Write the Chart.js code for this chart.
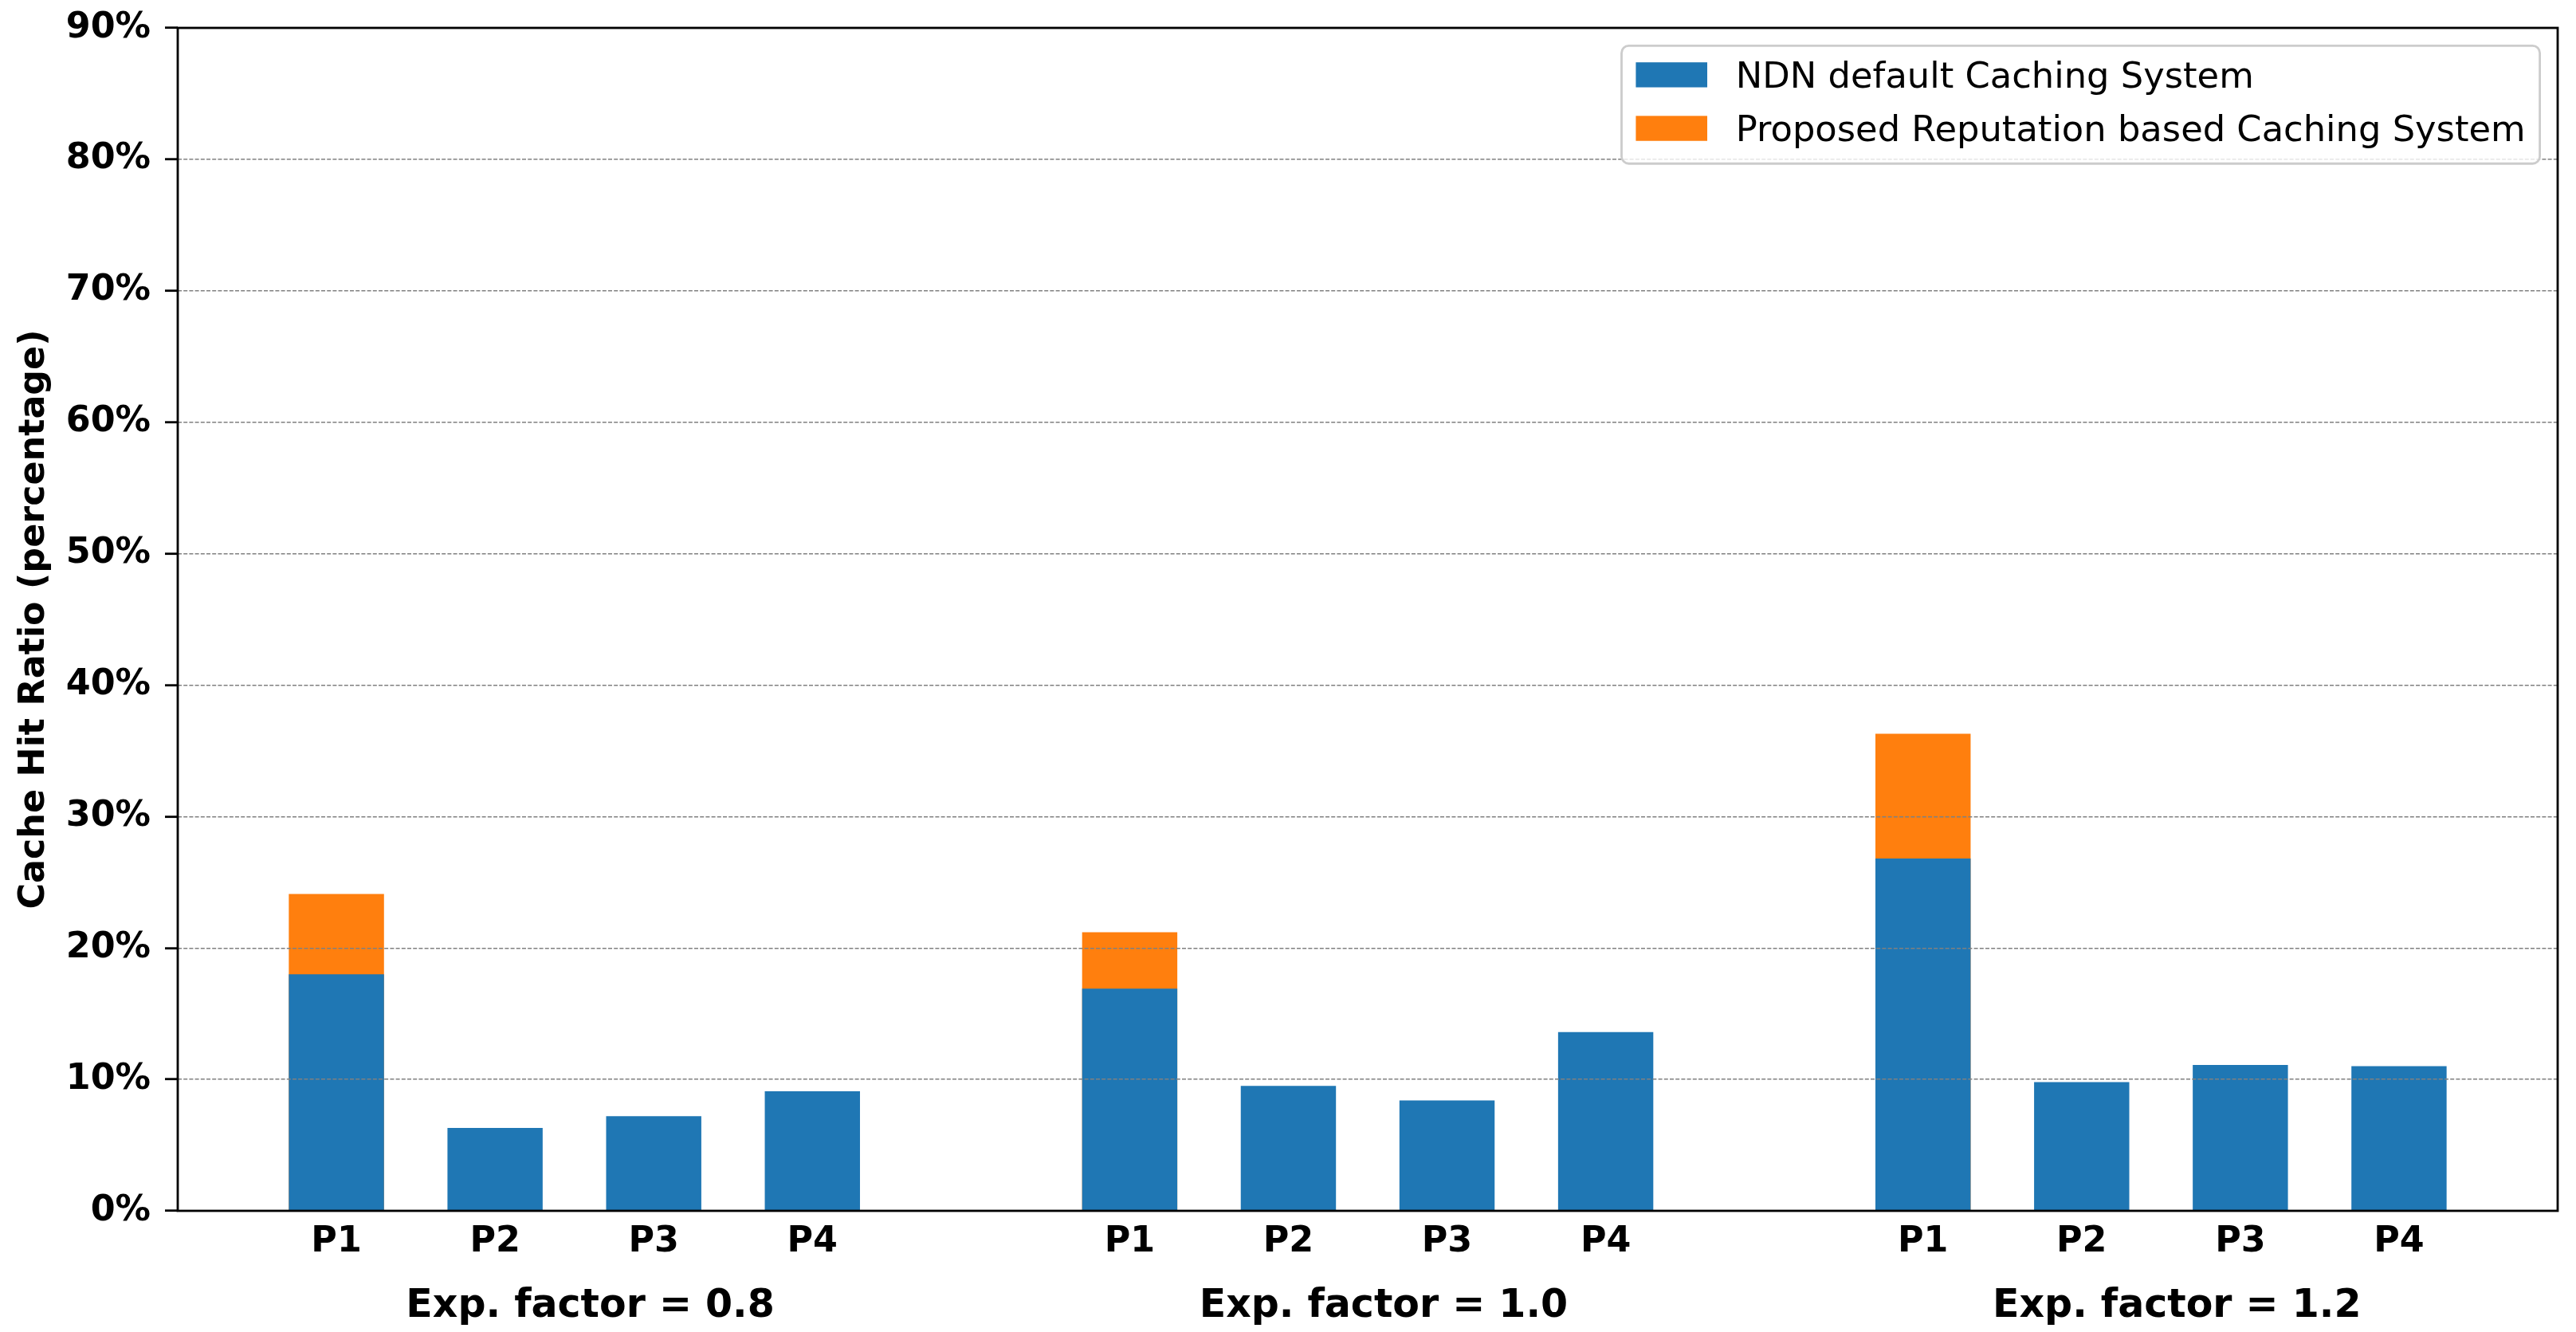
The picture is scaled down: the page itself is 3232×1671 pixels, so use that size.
<!DOCTYPE html>
<html>
<head>
<meta charset="utf-8">
<script src="https://cdn.jsdelivr.net/npm/chart.js@4.4.1/dist/chart.umd.min.js"></script>
<style>
  html, body { margin: 0; padding: 0; background: #ffffff; }
  canvas { display: block; }
</style>
</head>
<body>
<canvas id="chart" width="3232" height="1671"></canvas>
<script>
// ---------------- data ----------------
const policies = ['P1', 'P2', 'P3', 'P4'];
const groupLabels = ['Exp. factor = 0.8', 'Exp. factor = 1.0', 'Exp. factor = 1.2'];
const seriesNames = ['NDN default Caching System', 'Proposed Reputation based Caching System'];

const ndnDefault08 = [18.0, 6.3, 7.2, 9.1];
const ndnDefault10 = [16.9, 9.5, 8.4, 13.6];
const ndnDefault12 = [26.8, 9.8, 11.1, 11.0];

const proposed08 = [24.1, null, null, null];
const proposed10 = [21.2, null, null, null];
const proposed12 = [36.3, null, null, null];

const yMin = 0, yMax = 90, yStep = 10;

// ---------------- build category table (with a blank slot between groups) ----------------
const ndnGroups = [ndnDefault08, ndnDefault10, ndnDefault12];
const propGroups = [proposed08, proposed10, proposed12];
const labels = [''];
const ndnData = [null];
const propData = [null];
const groupCenters = [];
ndnGroups.forEach((g, gi) => {
  const first = labels.length;
  policies.forEach((p, pi) => {
    labels.push(p);
    ndnData.push(g[pi]);
    propData.push(propGroups[gi][pi]);
  });
  const last = labels.length - 1;
  groupCenters.push((first + last) / 2 + 0.1);
  labels.push('');
  ndnData.push(null);
  propData.push(null);
});

const FONT = "'DejaVu Sans', 'Liberation Sans', sans-serif";
const FS = 44.4;
const LFS = 44.8;
const BLUE = '#1f77b4';
const ORANGE = '#ff7f0e';

// ---------------- plugins ----------------
const groupLabelPlugin = {
  id: 'groupLabels',
  afterDraw(chart) {
    const ctx = chart.ctx;
    const xs = chart.scales.x;
    ctx.save();
    ctx.font = `bold 49px ${FONT}`;
    ctx.fillStyle = '#000';
    ctx.textAlign = 'center';
    ctx.textBaseline = 'alphabetic';
    groupLabels.forEach((t, i) => {
      ctx.fillText(t, xs.getPixelForValue(groupCenters[i]), chart.chartArea.bottom + 133);
    });
    ctx.restore();
  }
};

const framePlugin = {
  id: 'frame',
  afterDraw(chart) {
    const { ctx, chartArea: a } = chart;
    ctx.save();
    ctx.strokeStyle = '#000';
    ctx.lineWidth = 2.8;
    ctx.setLineDash([]);
    ctx.strokeRect(a.left, a.top, a.right - a.left, a.bottom - a.top);
    ctx.restore();
  }
};

const legendPlugin = {
  id: 'mplLegend',
  afterDraw(chart) {
    const { ctx, chartArea: a } = chart;
    const items = chart.data.datasets.map(d => ({ text: d.label, color: d.backgroundColor }));
    ctx.save();
    ctx.font = `${LFS}px ${FONT}`;
    const tw = Math.max(...items.map(i => ctx.measureText(i.text).width));
    const pad = 0.4 * LFS, hl = 2 * LFS, hh = 0.7 * LFS, htp = 0.8 * LFS, ls = 0.5 * LFS;
    const w = pad + hl + htp + tw + pad;
    const h = 2 * pad + items.length * LFS + (items.length - 1) * ls;
    const left = a.right - 0.5 * LFS - w;
    const top = a.top + 0.5 * LFS;
    ctx.beginPath();
    ctx.roundRect(left, top, w, h, 9);
    ctx.fillStyle = 'rgba(255,255,255,0.8)';
    ctx.fill();
    ctx.lineWidth = 2.8;
    ctx.strokeStyle = '#cccccc';
    ctx.stroke();
    items.forEach((it, i) => {
      const base = top + pad + LFS - 0.236 * LFS + i * (LFS + ls);
      ctx.fillStyle = it.color;
      ctx.fillRect(left + pad, base - hh, hl, hh);
      ctx.fillStyle = '#000';
      ctx.textAlign = 'left';
      ctx.textBaseline = 'alphabetic';
      ctx.fillText(it.text, left + pad + hl + htp, base);
    });
    ctx.restore();
  }
};

// ---------------- chart ----------------
new Chart(document.getElementById('chart'), {
  type: 'bar',
  data: {
    labels: labels,
    datasets: [
      {
        label: seriesNames[0],
        data: ndnData,
        backgroundColor: BLUE,
        borderWidth: 0,
        grouped: false,
        barPercentage: 0.6,
        categoryPercentage: 1.0
      },
      {
        label: seriesNames[1],
        data: propData,
        backgroundColor: ORANGE,
        borderWidth: 0,
        grouped: false,
        barPercentage: 0.6,
        categoryPercentage: 1.0
      }
    ]
  },
  options: {
    responsive: false,
    devicePixelRatio: 1,
    animation: false,
    layout: { padding: { left: 0, top: 35, right: 23, bottom: 0 } },
    plugins: {
      legend: { display: false },
      tooltip: { enabled: false },
      title: { display: false }
    },
    scales: {
      x: {
        type: 'category',
        offset: false,
        grid: { display: false, drawTicks: false },
        border: { display: false },
        ticks: {
          autoSkip: false,
          maxRotation: 0,
          minRotation: 0,
          padding: 13,
          color: '#000',
          font: { family: FONT, size: FS, weight: 'bold' }
        },
        afterFit(scale) {
          scale.height = 152;
          scale.paddingLeft = 0;
          scale.paddingRight = 0;
        }
      },
      y: {
        min: yMin,
        max: yMax,
        grid: {
          z: 1,
          color: '#808080',
          lineWidth: 1.4,
          drawTicks: true,
          tickLength: 16,
          tickWidth: 2.8,
          tickColor: '#000',
          tickBorderDash: [],
          tickBorderDashOffset: 0
        },
        border: { display: false, dash: [5, 2.2], dashOffset: 0 },
        ticks: {
          stepSize: yStep,
          padding: 18,
          color: '#000',
          font: { family: FONT, size: FS, weight: 'bold' },
          callback: v => v + '%'
        },
        title: {
          display: true,
          text: 'Cache Hit Ratio (percentage)',
          color: '#000',
          font: { family: FONT, size: FS, weight: 'bold' },
          padding: { top: 17, bottom: 0 }
        },
        afterFit(scale) {
          scale.width = 223;
          scale.paddingTop = 0;
          scale.paddingBottom = 0;
        }
      }
    }
  },
  plugins: [groupLabelPlugin, framePlugin, legendPlugin]
});
</script>
</body>
</html>
